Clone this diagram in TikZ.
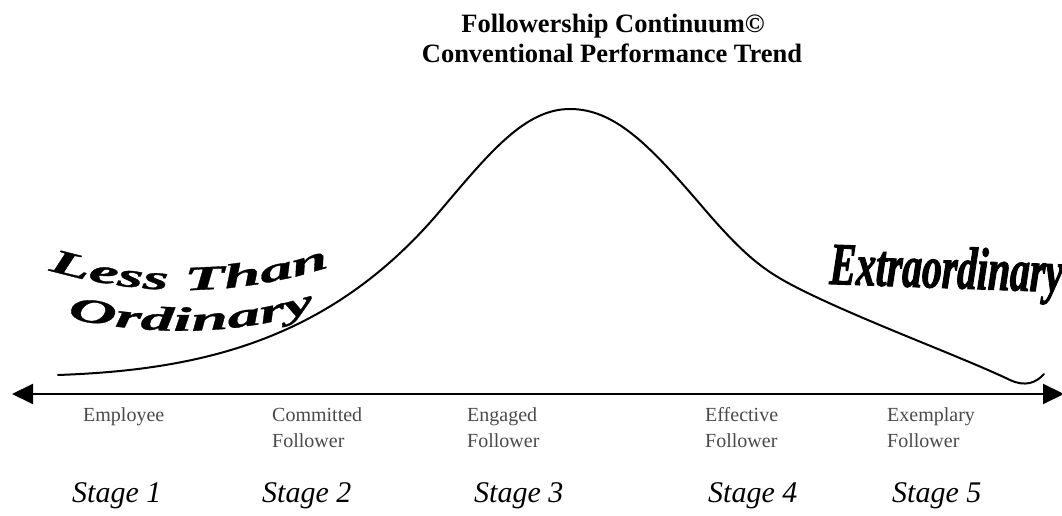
\documentclass[tikz,border=0pt]{standalone}
\usepackage{fontspec}
\setmainfont{Liberation Serif}
\newfontfamily\wordart{Liberation Serif}[FakeStretch=1.95,FakeBold=1]
\newfontfamily\extrafont{Liberation Serif}[FakeStretch=0.66,FakeBold=1.5]
\usetikzlibrary{arrows.meta,decorations.text}
\definecolor{labgray}{HTML}{4A4A4A}
\begin{document}
\begin{tikzpicture}[x=1pt,y=1pt,
  titlelab/.style={font=\fontsize{26.5}{30}\selectfont\bfseries, anchor=base, inner sep=0pt},
  lab/.style={text=labgray, font=\fontsize{20}{26}\selectfont, align=left, anchor=north west, inner sep=0pt},
  stagelab/.style={font=\fontsize{30}{30}\selectfont\itshape, anchor=base west, inner sep=0pt},
  trend/.style={line width=2pt, line cap=round, line join=round},
  axisline/.style={line width=2pt, {Triangle[length=21pt,width=20pt]}-{Triangle[length=21pt,width=20pt]}}]
\useasboundingbox (0,0) rectangle (1062,516);
\fill[white] (0,0) rectangle (1062,516);

% title
\node[titlelab] (t1) at (613,483) {Followership Continuum©};
\node[titlelab] (t2) at (612,453) {Conventional Performance Trend};

% axis
\coordinate (axL) at (12,122);
\coordinate (axR) at (1064,122);
\draw[axisline] (axL) -- (axR);

% performance curve
\draw[trend] (58,141) .. controls (200,146) and (330,175) .. (440,305)
  .. controls (490,364) and (525,407) .. (570,407)
  .. controls (615,407) and (650,370) .. (700,312)
  .. controls (740,265) and (760,248) .. (790,232)
  .. controls (850,200) and (960,160) .. (1010,136)
  .. controls (1025,129) and (1036,133) .. (1044,142);

% word art
\path[decorate, decoration={text along path, text align=center,
  text={|\wordart\bfseries\itshape\fontsize{34}{34}\selectfont|Less Than}}]
  (24,254) .. controls (130,216) and (245,216) .. (354,258);
\path[decorate, decoration={text along path, text align=center,
  text={|\wordart\bfseries\itshape\fontsize{34}{34}\selectfont|Ordinary}}]
  (46,203) .. controls (145,178) and (240,178) .. (336,212);
\node[anchor=base west, inner sep=0pt, rotate=-2] (xo) at (829,232)
  {\extrafont\bfseries\itshape\fontsize{60}{60}\selectfont Extraordinary};

% stage descriptions
\node[lab] (l1) at (83,109) {Employee};
\node[lab] (l2) at (272,109) {Committed\\Follower};
\node[lab] (l3) at (467,109) {Engaged\\Follower};
\node[lab] (l4) at (705,109) {Effective\\Follower};
\node[lab] (l5) at (887,109) {Exemplary\\Follower};

% stages
\node[stagelab] (s1) at (72,13) {Stage 1};
\node[stagelab] (s2) at (262,13) {Stage 2};
\node[stagelab] (s3) at (474,13) {Stage 3};
\node[stagelab] (s4) at (708,13) {Stage 4};
\node[stagelab] (s5) at (892,13) {Stage 5};
\end{tikzpicture}
\end{document}
